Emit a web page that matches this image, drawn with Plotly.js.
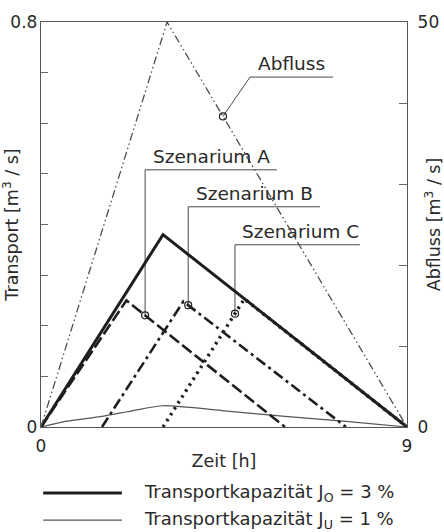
<!DOCTYPE html>
<html>
<head>
<meta charset="utf-8">
<script src="https://cdn.plot.ly/plotly-3.0.1.min.js"></script>
<style>html,body{margin:0;padding:0;background:#fff}</style>
</head>
<body>
<div id="chart" style="width:444px;height:532px"></div>
<script>
// ---- data ----
const timeCapO = [0, 3, 9];
const transportCapO = [0, 0.38, 0];
const timeCapU = [0, 0.6, 1.5, 2.3, 3, 4.5, 6, 7.5, 9];
const transportCapU = [0, 0.011, 0.021, 0.033, 0.042, 0.032, 0.021, 0.011, 0];
const timeA = [0, 2.1, 6];
const transportA = [0, 0.25, 0];
const timeB = [1.5, 3.5, 7.5];
const transportB = [0, 0.248, 0];
const timeC = [3, 5, 9];
const transportC = [0, 0.253, 0];
const timeQ = [0, 3.1, 9];
const discharge = [0, 50, 0];

const leftTickVals = [0, 0.8];
const leftTickText = ['0', '0.8'];
const rightTickVals = [0, 50];
const rightTickText = ['0', '50'];
const xTickVals = [0, 9];
const xTickText = ['0', '9'];

const nameCapO = 'Transportkapazität J<sub>O</sub> = 3 %';
const nameCapU = 'Transportkapazität J<sub>U</sub> = 1 %';
const nameA = 'Szenarium A';
const nameB = 'Szenarium B';
const nameC = 'Szenarium C';
const nameQ = 'Abfluss';

// ---- helpers ----
function interp(xs, ys, x) {
  for (let i = 0; i < xs.length - 1; i++) {
    if (x >= xs[i] && x <= xs[i + 1]) {
      const t = (x - xs[i]) / (xs[i + 1] - xs[i]);
      return ys[i] + t * (ys[i + 1] - ys[i]);
    }
  }
  return null;
}

const FONT = 'DejaVu Sans, Arial, sans-serif';
const INK = '#1e1e1e';
const GREY = '#4a4a4a';
const TXT = '#2a2a2a';

// ---- traces ----
const traces = [
  {x: timeQ, y: discharge, yaxis: 'y2', name: nameQ, mode: 'lines',
   line: {color: '#4d4d4d', width: 1.3, dash: '8px,3px,1.5px,3px,1.5px,3px'}},
  {x: timeCapU, y: transportCapU, name: nameCapU, mode: 'lines',
   line: {color: '#555', width: 1.2, shape: 'spline', smoothing: 0.6}},
  {x: timeA, y: transportA, name: nameA, mode: 'lines',
   line: {color: INK, width: 2.6, dash: '12px,4px'}},
  {x: timeB, y: transportB, name: nameB, mode: 'lines',
   line: {color: INK, width: 2.6, dash: '11px,4px,3px,4px'}},
  {x: timeC, y: transportC, name: nameC, mode: 'lines',
   line: {color: INK, width: 3.4, dash: '2.5px,4.5px'}},
  {x: timeCapO, y: transportCapO, name: nameCapO, mode: 'lines',
   line: {color: INK, width: 3}}
];

// ---- callouts (positions are layout, not data) ----
const callouts = [
  {text: nameA, xs: timeA, ys: transportA, xc: 2.56, level: 0.508, xEnd: 5.80, xText: 4.2},
  {text: nameB, xs: timeB, ys: transportB, xc: 3.62, level: 0.435, xEnd: 6.86, xText: 5.24},
  {text: nameC, xs: timeC, ys: transportC, xc: 4.77, level: 0.360, xEnd: 7.84, xText: 6.37}
];
const shapes = [];
const annotations = [];
const circX = [], circY = [];
callouts.forEach(c => {
  const yc = interp(c.xs, c.ys, c.xc);
  circX.push(c.xc); circY.push(yc);
  shapes.push({type: 'line', xref: 'x', yref: 'y', x0: c.xc, y0: yc, x1: c.xc, y1: c.level,
               line: {color: GREY, width: 1}, layer: 'below'});
  shapes.push({type: 'line', xref: 'x', yref: 'y', x0: c.xc, y0: c.level, x1: c.xEnd, y1: c.level,
               line: {color: GREY, width: 1}, layer: 'below'});
  annotations.push({text: c.text, x: c.xText, y: c.level, xref: 'x', yref: 'y',
                    xanchor: 'center', yanchor: 'bottom', yshift: 1, showarrow: false,
                    font: {family: FONT, size: 18.5, color: TXT}});
});
// Abfluss callout on the right axis
const qc = 4.475;
const qcy = interp(timeQ, discharge, qc);
const qElbowX = 5.14, qLevel = 43.2, qEnd = 7.18, qText = 6.15;
shapes.push({type: 'line', xref: 'x', yref: 'y2', x0: qc, y0: qcy, x1: qElbowX, y1: qLevel,
             line: {color: GREY, width: 1}, layer: 'below'});
shapes.push({type: 'line', xref: 'x', yref: 'y2', x0: qElbowX, y0: qLevel, x1: qEnd, y1: qLevel,
             line: {color: GREY, width: 1}, layer: 'below'});
annotations.push({text: nameQ, x: qText, y: qLevel, xref: 'x', yref: 'y2',
                  xanchor: 'center', yanchor: 'bottom', yshift: 1, showarrow: false,
                  font: {family: FONT, size: 18.5, color: TXT}});

traces.push({x: circX, y: circY, mode: 'markers', name: 'markers', hoverinfo: 'skip',
             marker: {symbol: 'circle-open', size: 7, color: INK, line: {width: 1.2, color: INK}}});
traces.push({x: [qc], y: [qcy], yaxis: 'y2', mode: 'markers', name: 'marker Q', hoverinfo: 'skip',
             marker: {symbol: 'circle-open', size: 7, color: INK, line: {width: 1.2, color: INK}}});
traces.forEach(t => t.showlegend = false);

// ---- legend drawn below the plot ----
const legendItems = [
  {text: nameCapO, width: 3, color: INK, y: -0.163},
  {text: nameCapU, width: 1.2, color: '#555', y: -0.23}
];
legendItems.forEach(li => {
  shapes.push({type: 'line', xref: 'paper', yref: 'paper', x0: 0.006, x1: 0.221, y0: li.y, y1: li.y,
               line: {color: li.color, width: li.width}});
  annotations.push({text: li.text, xref: 'paper', yref: 'paper', x: 0.276, y: li.y,
                    xanchor: 'left', yanchor: 'middle', showarrow: false,
                    font: {family: FONT, size: 18, color: TXT}});
});

const axisLine = {showline: true, linecolor: '#555', linewidth: 1.2, zeroline: false, showgrid: false};

const layout = {
  width: 444, height: 532,
  margin: {l: 41, r: 37, t: 22, b: 105, pad: 0},
  paper_bgcolor: '#ffffff', plot_bgcolor: '#ffffff',
  font: {family: FONT, size: 17, color: TXT},
  showlegend: false,
  xaxis: Object.assign({}, axisLine, {
    range: [0, 9], mirror: true, tickvals: xTickVals, ticktext: xTickText,
    ticks: '', ticklabelstandoff: 3,
    title: {text: 'Zeit [h]', standoff: 0, font: {family: FONT, size: 17.5}}
  }),
  yaxis: Object.assign({}, axisLine, {
    range: [0, 0.8], tickvals: leftTickVals, ticktext: leftTickText,
    ticks: 'inside', ticklen: 7, tickcolor: '#666', tickwidth: 1, ticklabelstandoff: -1,
    minor: {ticks: 'inside', ticklen: 7, tickcolor: '#666', tickwidth: 1, tickmode: 'linear', tick0: 0, dtick: 0.1},
    title: {text: 'Transport [m<sup>3</sup> / s]', standoff: 0, font: {family: FONT, size: 17.5}}
  }),
  yaxis2: Object.assign({}, axisLine, {
    range: [0, 50], overlaying: 'y', side: 'right', tickvals: rightTickVals, ticktext: rightTickText,
    ticks: 'inside', ticklen: 8, tickcolor: '#666', tickwidth: 1, ticklabelstandoff: 6,
    minor: {ticks: 'inside', ticklen: 8, tickcolor: '#666', tickwidth: 1, tickmode: 'linear', tick0: 0, dtick: 10},
    title: {text: 'Abfluss [m<sup>3</sup> / s]', standoff: 0, font: {family: FONT, size: 17.5}}
  }),
  shapes: shapes,
  annotations: annotations
};

Plotly.newPlot('chart', traces, layout, {staticPlot: true, displayModeBar: false});
</script>
</body>
</html>
